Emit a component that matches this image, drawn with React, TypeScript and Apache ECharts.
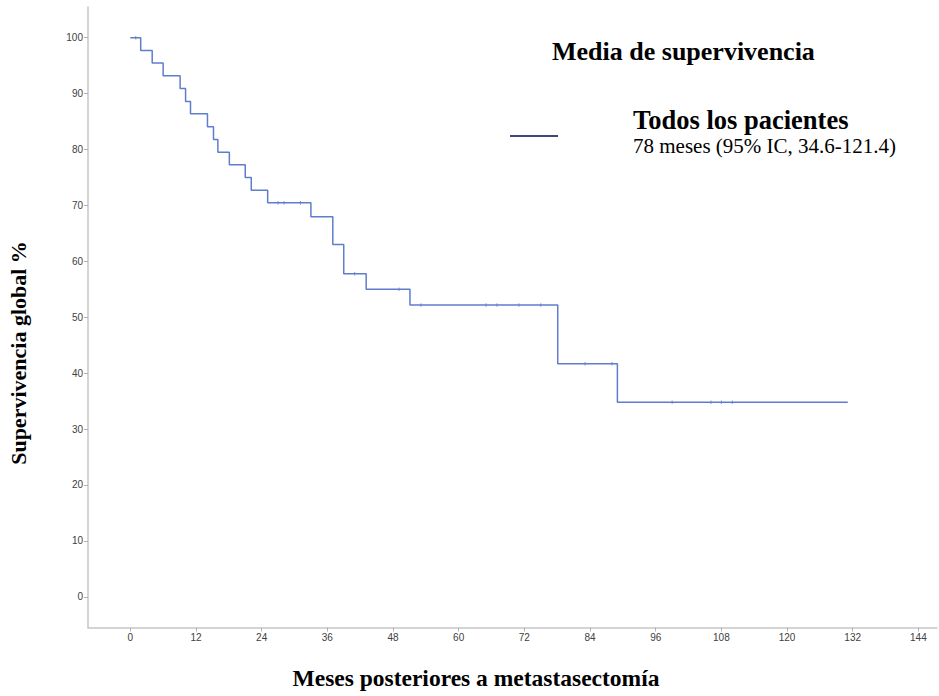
import React, { useEffect, useRef } from "react";
import * as echarts from "echarts";

// Kaplan-Meier estimate (months, % survival after each event)
const eventTimes = [0, 1.9, 4.0, 6.0, 9.1, 10.1, 11.0, 14.1, 15.2, 16.0, 18.1, 21.0, 22.1, 25.1, 33.0, 37.0, 39.0, 43.1, 51.1, 78.1, 89.0];
const survival = [100, 97.7, 95.5, 93.2, 90.9, 88.6, 86.4, 84.1, 81.8, 79.5, 77.3, 75.0, 72.7, 70.5, 68.0, 63.0, 57.8, 55.0, 52.2, 41.7, 34.8];
const lastFollowUp = 131.1;
const censorTimes = [1.0, 27.0, 28.1, 31.1, 41.0, 49.1, 53.1, 65.0, 67.0, 71.0, 75.0, 83.1, 88.0, 99.0, 106.1, 108.0, 110.0];

const xTicks = [0, 12, 24, 36, 48, 60, 72, 84, 96, 108, 120, 132, 144];
const yTicks = [0, 10, 20, 30, 40, 50, 60, 70, 80, 90, 100];

const titleText = "Media de supervivencia";
const groupText = "Todos los pacientes";
const medianText = "78 meses (95% IC, 34.6-121.4)";
const xTitle = "Meses posteriores a metastasectomía";
const yTitle = "Supervivencia global %";

function survivalAt(t: number): number {
  let s = survival[0];
  for (let i = 0; i < eventTimes.length; i++) {
    if (eventTimes[i] <= t) s = survival[i];
  }
  return s;
}

export default function App() {
  const ref = useRef<HTMLDivElement>(null);
  useEffect(() => {
    if (!ref.current) return;
    const chart = echarts.init(ref.current, undefined, { renderer: "svg" });
    const curve: number[][] = eventTimes.map((t, i) => [t, survival[i]]);
    curve.push([lastFollowUp, survival[survival.length - 1]]);
    const censors = censorTimes.map((t) => [t, survivalAt(t)]);
    const lineColor = "#5f7dcd";
    const axisColor = "#c6c6c6";
    const tickLabel = { fontFamily: "Liberation Sans", fontSize: 10, color: "#404040" };
    chart.setOption({
      animation: false,
      backgroundColor: "#ffffff",
      grid: { left: 88, right: 2, top: 7, bottom: 68.5, containLabel: false },
      xAxis: {
        type: "value",
        min: -7.73,
        max: 147.4,
        axisLine: { show: true, onZero: false, lineStyle: { color: axisColor, width: 1.5 } },
        axisTick: { show: true, length: 4, customValues: xTicks, lineStyle: { color: "#b0b0b0" } },
        axisLabel: { show: true, margin: 5, customValues: xTicks, ...tickLabel },
        splitLine: { show: false },
      },
      yAxis: {
        type: "value",
        min: -5.5,
        max: 105.5,
        axisLine: { show: true, onZero: false, lineStyle: { color: axisColor, width: 1.5 } },
        axisTick: { show: true, length: 4, customValues: yTicks, lineStyle: { color: "#b0b0b0" } },
        axisLabel: { show: true, margin: 5, customValues: yTicks, ...tickLabel },
        splitLine: { show: false },
      },
      series: [
        {
          type: "line",
          step: "end",
          data: curve,
          showSymbol: false,
          symbol: "none",
          lineStyle: { color: lineColor, width: 1.5 },
          silent: true,
          z: 3,
        },
        {
          type: "scatter",
          data: censors,
          symbol: "rect",
          symbolSize: [1, 3.5],
          itemStyle: { color: lineColor, opacity: 0.8 },
          silent: true,
          z: 4,
        },
      ],
      graphic: [
        {
          type: "text",
          left: 552,
          top: 38,
          style: { text: titleText, font: "bold 26px 'Liberation Serif'", fill: "#000" },
        },
        {
          type: "line",
          shape: { x1: 510, y1: 136, x2: 558, y2: 136 },
          style: { stroke: "#3c4878", lineWidth: 2 },
        },
        {
          type: "text",
          left: 633,
          top: 106,
          style: { text: groupText, font: "bold 26.5px 'Liberation Serif'", fill: "#000" },
        },
        {
          type: "text",
          left: 633,
          top: 135,
          style: { text: medianText, font: "21px 'Liberation Serif'", fill: "#000" },
        },
        {
          type: "text",
          x: 476,
          y: 678,
          style: { text: xTitle, font: "bold 23.5px 'Liberation Serif'", fill: "#000", align: "center", verticalAlign: "middle" },
        },
        {
          type: "text",
          x: 18,
          y: 353,
          rotation: Math.PI / 2,
          style: { text: yTitle, font: "bold 22px 'Liberation Serif'", fill: "#000", align: "center", verticalAlign: "middle" },
        },
      ],
    });
    return () => chart.dispose();
  }, []);
  return <div ref={ref} style={{ width: 939, height: 696, position: "absolute", left: 0, top: 0 }} />;
}
